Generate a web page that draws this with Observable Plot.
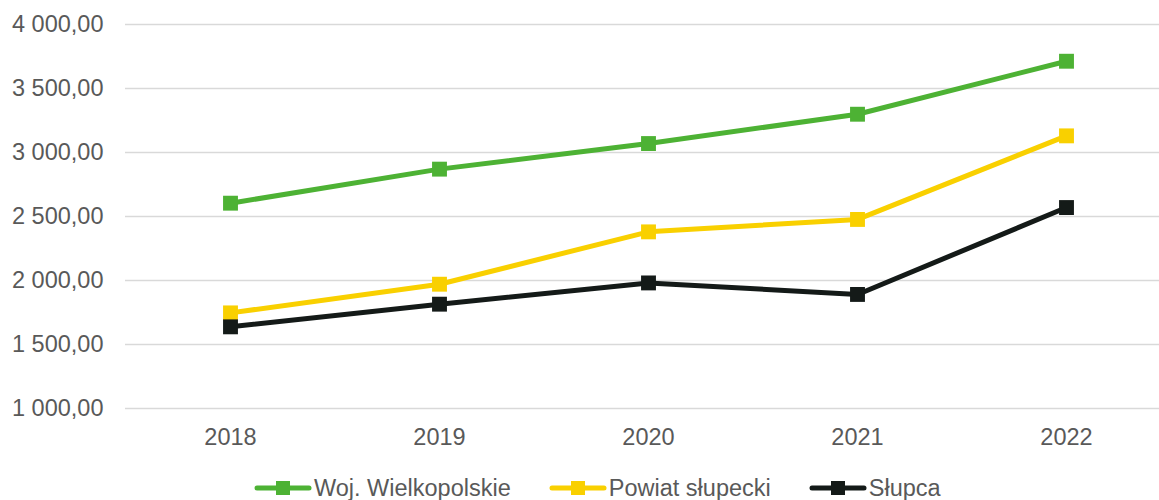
<!DOCTYPE html>
<html>
<head>
<meta charset="utf-8">
<script src="https://cdn.jsdelivr.net/npm/d3@7"></script>
<script src="https://cdn.jsdelivr.net/npm/@observablehq/plot@0.6"></script>
<style>
  html, body { margin: 0; padding: 0; background: #fff; overflow: hidden; width: 1159px; height: 500px; }
  #chart { position: relative; width: 1159px; height: 462px; overflow: hidden; }
  #legend { display: flex; align-items: center; box-sizing: border-box; height: 38px; padding-top: 14px; padding-left: 254px;
            font-family: "Liberation Sans", Arial, sans-serif; font-size: 23.5px; color: #595959; }
  .item { display: flex; align-items: center; margin-right: 38px; }
  .item svg { margin-right: 2px; }
</style>
</head>
<body>
<div id="chart"></div>
<div id="legend"></div>
<script>
const years = ["2018", "2019", "2020", "2021", "2022"];
const seriesNames = ["Woj. Wielkopolskie", "Powiat słupecki", "Słupca"];
const seriesColors = ["#4db234", "#f9d000", "#141a18"];
const wojValues = [2604, 2870, 3070, 3299, 3713];
const powiatValues = [1747, 1971, 2380, 2477, 3130];
const slupcaValues = [1638, 1815, 1981, 1891, 2570];
const yTicks = [1000, 1500, 2000, 2500, 3000, 3500, 4000];

const seriesValues = [wojValues, powiatValues, slupcaValues];
const data = seriesNames.flatMap((name, s) =>
  years.map((year, i) => ({ series: name, year, value: seriesValues[s][i] })));

const fmt = d => d3.format(",.2f")(d).replace(/,/g, " ").replace(".", ",");

const marks = [
  Plot.gridY(yTicks, { stroke: "#d9d9d9", strokeOpacity: 1, strokeWidth: 1.5 }),
  Plot.axisY(yTicks, { tickSize: 0, tickPadding: 22, tickFormat: fmt, label: null }),
  Plot.axisX({ tickSize: 0, tickPadding: 20, label: null })
];
seriesNames.forEach((name, s) => {
  const rows = data.filter(d => d.series === name);
  marks.push(Plot.line(rows, { x: "year", y: "value", stroke: seriesColors[s], strokeWidth: 5, strokeLinejoin: "round" }));
  marks.push(Plot.dot(rows, { x: "year", y: "value", symbol: "square", r: 8.4, fill: seriesColors[s], stroke: null }));
});

const chart = Plot.plot({
  width: 1171,
  height: 462,
  marginLeft: 125,
  marginRight: 0,
  marginTop: 24,
  marginBottom: 54,
  style: { maxWidth: "none", fontFamily: "'Liberation Sans', Arial, sans-serif", fontSize: "23.5px", color: "#595959", background: "#fff" },
  x: { type: "point", domain: years, padding: 0.5 },
  y: { domain: [1000, 4000] },
  marks
});
document.getElementById("chart").appendChild(chart);

const legend = document.getElementById("legend");
seriesNames.forEach((name, s) => {
  const item = document.createElement("div");
  item.className = "item";
  item.innerHTML = `<svg width="58" height="20"><line x1="3" y1="10" x2="55" y2="10" stroke="${seriesColors[s]}" stroke-width="5" stroke-linecap="round"/><rect x="22" y="3" width="14" height="14" fill="${seriesColors[s]}"/></svg><span>${name}</span>`;
  legend.appendChild(item);
});
</script>
</body>
</html>
